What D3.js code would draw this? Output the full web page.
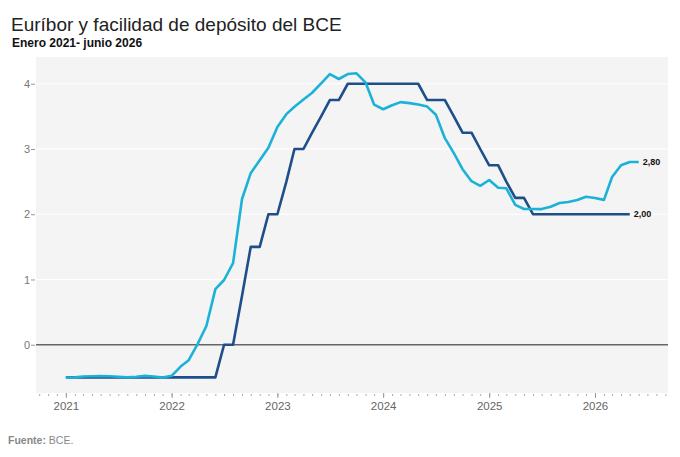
<!DOCTYPE html>
<html>
<head>
<meta charset="utf-8">
<script src="https://cdn.jsdelivr.net/npm/d3@7"></script>
<style>
  body { margin: 0; background: #fff; }
  svg { display: block; font-family: "Liberation Sans", Arial, sans-serif; }
</style>
</head>
<body>
<div id="chart"></div>
<script>
// Serie mensual desde enero 2021
const startMonth = new Date(2021, 0, 1);

// Euríbor 12 meses (media mensual)
const euribor = [
  -0.505, -0.501, -0.487, -0.484, -0.481, -0.484, -0.491, -0.498, -0.492, -0.477, -0.487, -0.502,
  -0.477, -0.335, -0.237, 0.013, 0.287, 0.852, 0.992, 1.249, 2.233, 2.629, 2.828, 3.018,
  3.337, 3.534, 3.647, 3.757, 3.862, 4.007, 4.149, 4.073, 4.149, 4.160, 4.022, 3.679,
  3.609, 3.671, 3.718, 3.703, 3.681, 3.650, 3.526, 3.166, 2.936, 2.691, 2.506, 2.436,
  2.525, 2.407, 2.398, 2.143, 2.081, 2.081, 2.079, 2.114, 2.172, 2.187, 2.217, 2.267,
  2.25, 2.22, 2.57, 2.75, 2.80, 2.80
];

// Facilidad de depósito del BCE
const deposito = [
  -0.5, -0.5, -0.5, -0.5, -0.5, -0.5, -0.5, -0.5, -0.5, -0.5, -0.5, -0.5,
  -0.5, -0.5, -0.5, -0.5, -0.5, -0.5, 0, 0, 0.75, 1.5, 1.5, 2.0,
  2.0, 2.5, 3.0, 3.0, 3.25, 3.5, 3.75, 3.75, 4.0, 4.0, 4.0, 4.0,
  4.0, 4.0, 4.0, 4.0, 4.0, 3.75, 3.75, 3.75, 3.5, 3.25, 3.25, 3.0,
  2.75, 2.75, 2.5, 2.25, 2.25, 2.0, 2.0, 2.0, 2.0, 2.0, 2.0, 2.0,
  2.0, 2.0, 2.0, 2.0, 2.0
];

const yTicks = [0, 1, 2, 3, 4];
const xYears = [2021, 2022, 2023, 2024, 2025, 2026];

const W = 680, H = 457;
const margin = { top: 57, right: 12, bottom: 64, left: 36 };

const svg = d3.select("#chart").append("svg")
  .attr("width", W).attr("height", H);

// Títulos
svg.append("text").attr("x", 11).attr("y", 31)
  .attr("font-size", 19).attr("fill", "#222")
  .text("Euríbor y facilidad de depósito del BCE");
svg.append("text").attr("x", 12).attr("y", 47)
  .attr("font-size", 12).attr("font-weight", "bold").attr("fill", "#111")
  .text("Enero 2021- junio 2026");

const x = d3.scaleTime()
  .domain([new Date(2020, 8, 20), new Date(2026, 8, 10)])
  .range([margin.left, W - margin.right]);

const y = d3.scaleLinear()
  .domain([-0.74, 4.41])
  .range([H - margin.bottom, margin.top]);

// Fondo
svg.append("rect")
  .attr("x", margin.left).attr("y", margin.top)
  .attr("width", W - margin.left - margin.right)
  .attr("height", H - margin.top - margin.bottom)
  .attr("fill", "#f4f4f4");

// Rejilla
svg.append("g").selectAll("line")
  .data(yTicks.filter(d => d !== 0))
  .enter().append("line")
  .attr("x1", margin.left).attr("x2", W - margin.right)
  .attr("y1", d => y(d)).attr("y2", d => y(d))
  .attr("stroke", "#fff").attr("stroke-width", 1.2);

// Eje Y
const yAxis = svg.append("g")
  .attr("transform", `translate(${margin.left},0)`)
  .call(d3.axisLeft(y).tickValues(yTicks).tickSize(4).tickPadding(2).tickFormat(d3.format("d")));
yAxis.select(".domain").remove();
yAxis.selectAll("line").attr("stroke", "#999").attr("transform", "translate(-1,0)");
yAxis.selectAll("text").attr("font-size", 11).attr("fill", "#777")
  .attr("font-family", "Liberation Sans, Arial, sans-serif");

// Línea del cero
svg.append("line")
  .attr("x1", margin.left).attr("x2", W - margin.right)
  .attr("y1", y(0)).attr("y2", y(0))
  .attr("stroke", "#666").attr("stroke-width", 1.5);

// Eje X: marcas mensuales y etiquetas anuales
const xb = H - margin.bottom;
const minor = svg.append("g")
  .attr("transform", `translate(0,${xb + 1})`)
  .call(d3.axisBottom(x).ticks(d3.timeMonth.every(1)).tickSize(2).tickFormat(""));
minor.select(".domain").remove();
minor.selectAll("line").attr("stroke", "#aaa");

const major = svg.append("g")
  .attr("transform", `translate(0,${xb})`)
  .call(d3.axisBottom(x)
    .tickValues(xYears.map(yr => new Date(yr, 0, 1)))
    .tickSize(5).tickPadding(4)
    .tickFormat(d3.timeFormat("%Y")));
major.select(".domain").remove();
major.selectAll("line").attr("stroke", "#999");
major.selectAll("text").attr("font-size", 11.5).attr("fill", "#666")
  .attr("font-family", "Liberation Sans, Arial, sans-serif");

// Series
const monthDate = i => d3.timeMonth.offset(startMonth, i);
const line = d3.line()
  .x((d, i) => x(monthDate(i)))
  .y(d => y(d));

const series = [
  { name: "deposito", values: deposito, color: "#1f4f8a", label: "2,00" },
  { name: "euribor", values: euribor, color: "#1cb2d8", label: "2,80" }
];

svg.append("g").selectAll("path")
  .data(series)
  .enter().append("path")
  .attr("d", d => line(d.values))
  .attr("fill", "none")
  .attr("stroke", d => d.color)
  .attr("stroke-width", 2.6)
  .attr("stroke-linejoin", "round");

// Etiquetas finales
svg.append("g").selectAll("text")
  .data(series)
  .enter().append("text")
  .attr("x", d => x(monthDate(d.values.length - 1)) + 4)
  .attr("y", d => y(d.values[d.values.length - 1]))
  .attr("dy", "0.35em")
  .attr("font-size", 9)
  .attr("font-weight", "bold")
  .attr("fill", "#111")
  .text(d => d.label);

// Fuente
const src = svg.append("text").attr("x", 8).attr("y", 444)
  .attr("font-size", 10.5).attr("fill", "#888");
src.append("tspan").attr("font-weight", "bold").text("Fuente:");
src.append("tspan").text(" BCE.");
</script>
</body>
</html>
